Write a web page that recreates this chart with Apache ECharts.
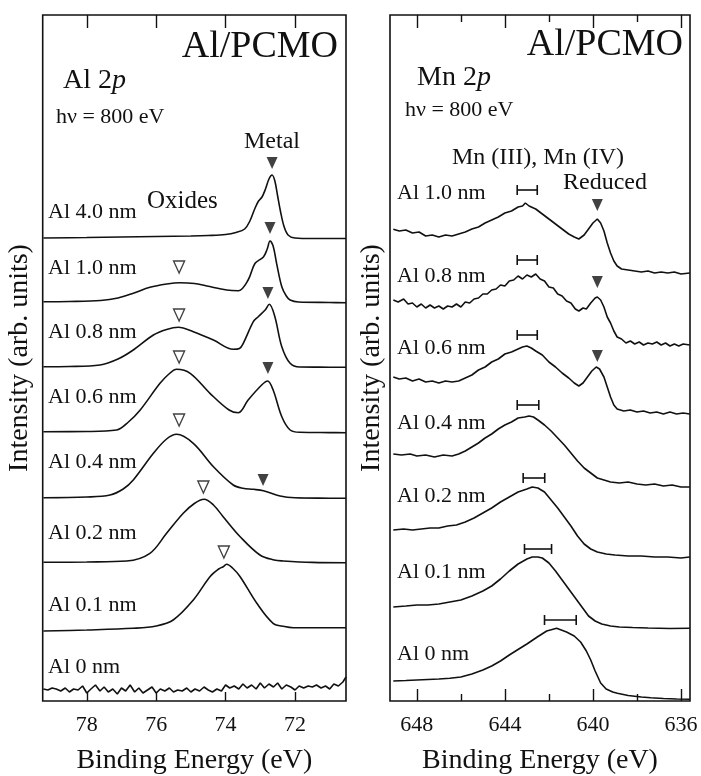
<!DOCTYPE html>
<html><head><meta charset="utf-8">
<script src="https://cdn.jsdelivr.net/npm/echarts@6/dist/echarts.min.js"></script>
<style>html,body{margin:0;padding:0;background:#fff}#c{width:701px;height:776px}</style>
</head><body><div id="c"></div>
<script>
// ---------- Labels ----------
const alLabels = ['Al 4.0 nm','Al 1.0 nm','Al 0.8 nm','Al 0.6 nm','Al 0.4 nm','Al 0.2 nm','Al 0.1 nm','Al 0 nm'];
const mnLabels = ['Al 1.0 nm','Al 0.8 nm','Al 0.6 nm','Al 0.4 nm','Al 0.2 nm','Al 0.1 nm','Al 0 nm'];
const alTickLabels = [78,76,74,72];
const mnTickLabels = [648,644,640,636];
const mnMinorTicks = [646,642,638];

// ---------- Al 2p spectra: [binding energy (eV), intensity (arb., offset)] ----------
const al_40 = [[79.25,463],[78,463.5],[77,464],[76,464.5],[75,465],[74.5,465.5],[74,466.5],[73.7,468.5],[73.45,472],[73.3,480],[73.15,493],[73.05,500],[72.95,504],[72.85,512],[72.75,522],[72.66,526],[72.58,520],[72.5,505],[72.42,490],[72.32,475],[72.2,466],[72.0,463],[71.5,462.5],[71.0,462.5],[70.53,462.5]];
const al_10 = [[79.25,399.3],[78.5,399.5],[77.6,400.5],[77.1,403],[76.66,407.7],[76.18,413.7],[75.7,417],[75.31,418.3],[74.9,417.5],[74.54,415],[73.97,411],[73.63,410.3],[73.35,421],[73.15,437.7],[72.91,444],[72.8,452],[72.72,460],[72.63,455],[72.53,437.7],[72.38,414.3],[72.25,405],[72.14,401],[71.9,399],[71.0,398.5],[70.53,398.3]];
const al_08 = [[79.25,334.3],[78.5,334.5],[77.62,336],[77.1,342],[76.66,351],[76.08,366],[75.7,371.5],[75.36,373.7],[74.93,369.3],[74.35,361],[73.78,351.7],[73.6,352.5],[73.49,357.7],[73.2,379.3],[73.06,384.3],[72.86,391],[72.74,396.7],[72.58,384.3],[72.38,354.3],[72.14,337.7],[71.86,334],[71.0,333.8],[70.53,333.7]];
const al_06 = [[79.25,269.3],[78.0,269.5],[77.14,271],[76.8,279],[76.46,291],[75.89,317.7],[75.6,328],[75.41,331.7],[75.02,327.7],[74.45,307.7],[73.9,291],[73.63,288.3],[73.35,301],[72.96,316],[72.79,320],[72.63,311],[72.38,284.3],[72.14,271],[71.86,268.7],[71.0,268.4],[70.53,268.3]];
const al_04 = [[79.25,203.3],[78.0,204],[77.33,206],[76.95,212],[76.66,221],[76.08,247.7],[75.7,262],[75.41,266.7],[74.93,257.7],[74.35,234.3],[73.78,216],[73.5,212.7],[73.2,211.7],[72.91,210.3],[72.43,205],[72.0,203.2],[71.0,202.8],[70.53,202.7]];
const al_02 = [[79.25,138.7],[78.0,139],[76.85,140],[76.18,147.7],[75.7,167.7],[75.22,187.7],[74.9,197.5],[74.62,201.7],[74.35,196],[74.07,184.3],[73.58,164.3],[73.01,146],[72.6,141],[72.34,140],[71.5,138.6],[70.53,138.3]];
const al_01 = [[79.25,70],[78.0,71],[76.66,72.7],[76.0,75],[75.51,81],[74.93,101],[74.45,124.3],[74.2,132],[74.07,134.3],[73.97,136.7],[73.8,133],[73.58,124.3],[73.1,97.7],[72.63,77.7],[72.3,74.5],[72.05,73.3],[71.0,73.2],[70.53,73.3]];
const al_00 = [[79.25,12],[79.12,11],[79.0,13],[78.88,12],[78.75,10],[78.62,13],[78.5,9],[78.38,12],[78.25,11],[78.12,15],[78.0,8],[77.88,12],[77.75,16],[77.62,10],[77.5,14],[77.38,9],[77.25,12],[77.12,7],[77.0,13],[76.88,10],[76.75,16],[76.62,9],[76.5,13],[76.38,8],[76.25,11],[76.12,14],[76.0,8],[75.88,12],[75.75,10],[75.62,13],[75.5,9],[75.38,11],[75.25,10],[75.12,13],[75.0,9],[74.88,12],[74.75,10],[74.62,14],[74.5,11],[74.38,9],[74.25,12],[74.12,10],[74.0,16],[73.88,13],[73.75,15],[73.62,12],[73.5,17],[73.38,13],[73.25,16],[73.12,12],[73.0,18],[72.88,13],[72.75,17],[72.62,14],[72.5,18],[72.38,12],[72.25,16],[72.12,14],[72.0,11],[71.88,15],[71.75,13],[71.62,15],[71.5,14],[71.38,16],[71.25,13],[71.12,15],[71.0,12],[70.88,17],[70.75,15],[70.62,19],[70.53,24]];

// ---------- Mn 2p spectra ----------
const mn_10 = [[649.07,471.7],[648.8,470],[648.5,471],[648.2,468],[647.9,469],[647.6,465],[647.3,466],[647.0,464],[646.7,466],[646.4,465],[646.1,467],[645.8,469],[645.5,472],[645.2,474],[644.9,478],[644.6,481],[644.3,484],[644.0,488],[643.7,490],[643.4,494],[643.2,495],[643.07,498],[642.9,495],[642.6,492],[642.3,487],[642.0,482],[641.7,477],[641.4,472],[641.1,467],[640.85,464],[640.64,462],[640.4,466],[640.2,472],[640.0,478],[639.8,482],[639.65,478],[639.5,470],[639.35,458],[639.2,448],[639.05,440],[638.9,435],[638.7,432],[638.4,431],[638.1,430],[637.8,429],[637.5,430],[637.2,428],[636.9,429],[636.6,428],[636.3,429],[636.0,427],[635.6,428]];
const mn_08 = [[649.07,401],[648.85,399],[648.6,402],[648.4,397],[648.2,398],[648.0,394],[647.8,397],[647.6,393],[647.4,396],[647.2,393],[647.0,395],[646.8,392],[646.6,395],[646.4,394],[646.2,397],[646.0,394],[645.8,399],[645.6,398],[645.4,402],[645.2,403],[645.0,407],[644.8,407],[644.6,411],[644.4,412],[644.2,416],[644.0,415],[643.8,420],[643.6,421],[643.4,425],[643.2,422],[643.0,426],[642.8,424],[642.6,427],[642.4,422],[642.2,420],[642.0,414],[641.8,413],[641.6,407],[641.4,405],[641.2,400],[641.0,398],[640.8,392],[640.64,390],[640.45,393],[640.3,392],[640.1,398],[639.9,403],[639.8,404],[639.65,401],[639.5,394],[639.35,384],[639.2,378],[639.05,370],[638.9,364],[638.7,362],[638.5,358],[638.3,360],[638.1,357],[637.9,359],[637.7,356],[637.5,358],[637.3,357],[637.1,359],[636.9,356],[636.7,358],[636.5,355],[636.3,357],[636.1,355],[635.9,357],[635.6,356]];
const mn_06 = [[649.07,324],[648.8,322],[648.5,323],[648.2,320],[647.9,322],[647.6,319],[647.3,320],[647.0,318],[646.7,320],[646.4,319],[646.1,320],[645.8,323],[645.5,326],[645.2,331],[644.9,334],[644.6,339],[644.3,342],[644.0,347],[643.7,349],[643.4,352],[643.2,354],[643.0,355],[642.8,353],[642.6,350],[642.3,346],[642.0,339],[641.7,334],[641.4,328],[641.1,323],[640.85,318],[640.64,315],[640.45,318],[640.25,324],[640.05,330],[639.85,334],[639.7,332],[639.5,324],[639.35,314],[639.2,304],[639.05,296],[638.9,292],[638.6,290],[638.3,291],[638.0,289],[637.7,290],[637.4,288],[637.1,289],[636.8,287],[636.5,289],[636.2,287],[635.9,288],[635.6,287]];
const mn_04 = [[649.07,247],[648.7,246],[648.3,247],[648.0,245],[647.6,246],[647.2,244],[646.8,246],[646.4,245],[646.1,247],[645.8,250],[645.5,254],[645.2,258],[644.9,263],[644.6,267],[644.3,272],[644.0,276],[643.7,279],[643.4,283],[643.1,284],[642.9,285],[642.7,284],[642.5,281],[642.2,276],[641.9,270],[641.6,263],[641.3,256],[641.0,248],[640.7,240],[640.4,233],[640.1,228],[639.8,223],[639.5,221],[639.2,219],[638.8,218],[638.4,219],[638.0,217],[637.6,216],[637.2,217],[636.8,215],[636.4,216],[636.0,214],[635.6,214]];
const mn_02 = [[649.07,171],[648.6,172],[648.2,171],[647.8,172],[647.4,173],[647.0,173],[646.6,175],[646.2,176],[645.8,179],[645.4,183],[645.0,188],[644.6,193],[644.2,199],[643.8,204],[643.4,209],[643.0,212],[642.76,214],[642.5,213],[642.2,209],[641.9,201],[641.6,193],[641.3,184],[641.0,175],[640.7,165],[640.4,157],[640.1,152],[639.8,149],[639.4,147],[639.0,146],[638.4,145],[637.8,145],[637.2,144],[636.6,144],[636.0,143],[635.6,144]];
const mn_01 = [[649.07,94],[648.5,95],[648.0,96],[647.5,96],[647.0,97],[646.5,99],[646.0,101],[645.5,105],[645.0,110],[644.6,115],[644.2,122],[643.8,130],[643.4,137],[643.0,142],[642.76,144],[642.5,144],[642.3,143],[642.0,138],[641.7,130],[641.4,121],[641.1,112],[640.8,103],[640.5,94],[640.2,85],[639.9,80],[639.6,77],[639.2,75],[638.8,74],[638.2,73.5],[637.5,73],[636.5,72.5],[635.6,72.7]];
const mn_00 = [[649.07,20],[648.5,20.5],[648.0,21],[647.5,21.5],[647.0,22],[646.5,22.7],[646.0,24],[645.5,27],[645.0,31],[644.6,35],[644.2,40],[643.8,46],[643.44,51],[643.0,57],[642.53,64],[642.1,70],[641.65,72.7],[641.2,69],[640.85,65],[640.56,59],[640.3,50],[640.1,41],[639.9,30],[639.65,18],[639.4,12],[639.1,9],[638.89,7.7],[638.4,5.5],[637.8,4],[637.37,3.3],[636.8,2.5],[636.2,2],[635.6,1.7]];

// ---------- Markers ----------
const alMetalMarks = [[72.66,538],[72.72,473],[72.78,408],[72.78,333],[72.92,221]];
const alOxideMarks = [[75.34,434],[75.34,386],[75.34,344],[75.34,281],[74.64,214],[74.05,149]];
const mnReducedMarks = [[639.8,496],[639.8,419],[639.8,345]];
const mnRanges = [[643.44,642.53,511],[643.44,642.53,441],[643.44,642.53,366],[643.44,642.46,296],[643.17,642.19,223],[643.11,641.88,152],[642.2,640.76,81]];

const alSpectra = [al_40, al_10, al_08, al_06, al_04, al_02, al_01, al_00];
const mnSpectra = [mn_10, mn_08, mn_06, mn_04, mn_02, mn_01, mn_00];

// ---------- Build chart ----------
const FONT = '"Liberation Serif", "Times New Roman", serif';
const INK = '#111';
const chart = echarts.init(document.getElementById('c'), null, {renderer: 'canvas'});

function xAxisDef(grid, pos, min, max, tickVals, tickLen, showLabels, name) {
  return {
    type: 'value', gridIndex: grid, position: pos, inverse: true,
    min: min, max: max,
    axisLine: {show: false},
    axisTick: {show: true, inside: true, length: tickLen, customValues: tickVals, lineStyle: {color: INK, width: 1.4}},
    splitLine: {show: false},
    axisLabel: {
      show: showLabels, customValues: tickVals, margin: 13, color: INK, fontFamily: FONT, fontSize: 22,
      formatter: v => String(Math.round(v))
    },
    name: name || '', nameLocation: 'middle', nameGap: 46,
    nameTextStyle: {color: INK, fontFamily: FONT, fontSize: 28}
  };
}
function yAxisDef(grid, gap) {
  return {
    type: 'value', gridIndex: grid, min: 0, max: 686,
    axisLine: {show: false}, axisTick: {show: false}, axisLabel: {show: false}, splitLine: {show: false},
    name: 'Intensity (arb. units)', nameLocation: 'middle', nameGap: gap, nameRotate: 90,
    nameTextStyle: {color: INK, fontFamily: FONT, fontSize: 28}
  };
}

const series = [];
alSpectra.forEach((d, i) => series.push({
  type: 'line', name: 'Al 2p ' + alLabels[i], xAxisIndex: 0, yAxisIndex: 0, data: d,
  showSymbol: false, smooth: i === 7 ? false : 0.35, lineStyle: {color: INK, width: 1.6}, z: 3, silent: true
}));
mnSpectra.forEach((d, i) => series.push({
  type: 'line', name: 'Mn 2p ' + mnLabels[i], xAxisIndex: 2, yAxisIndex: 1, data: d,
  showSymbol: false, smooth: false, lineStyle: {color: INK, width: 1.6}, z: 3, silent: true
}));
series.push({type: 'scatter', xAxisIndex: 0, yAxisIndex: 0, data: alMetalMarks, symbol: 'triangle', symbolRotate: 180, symbolSize: [11, 12], itemStyle: {color: INK}, z: 5});
series.push({type: 'scatter', xAxisIndex: 0, yAxisIndex: 0, data: alOxideMarks, symbol: 'triangle', symbolRotate: 180, symbolSize: [11, 12], itemStyle: {color: '#fff', borderColor: INK, borderWidth: 1.4}, z: 5});
series.push({type: 'scatter', xAxisIndex: 2, yAxisIndex: 1, data: mnReducedMarks, symbol: 'triangle', symbolRotate: 180, symbolSize: [11, 12], itemStyle: {color: INK}, z: 5});
series.push({
  type: 'custom', xAxisIndex: 2, yAxisIndex: 1, data: mnRanges, encode: {x: [0, 1], y: 2}, z: 5,
  renderItem: (params, api) => {
    const a = api.coord([api.value(0), api.value(2)]);
    const b = api.coord([api.value(1), api.value(2)]);
    const h = 5, st = {stroke: INK, lineWidth: 1.6};
    return {type: 'group', children: [
      {type: 'line', shape: {x1: a[0], y1: a[1], x2: b[0], y2: b[1]}, style: st},
      {type: 'line', shape: {x1: a[0], y1: a[1] - h, x2: a[0], y2: a[1] + h}, style: st},
      {type: 'line', shape: {x1: b[0], y1: b[1] - h, x2: b[0], y2: b[1] + h}, style: st}
    ]};
  }
});

function txt(x, y, text, size, align) {
  return {type: 'text', x: x, y: y, silent: true, z: 10,
    style: {text: text, fill: INK, font: size + 'px ' + FONT, align: align || 'left', verticalAlign: 'middle'}};
}
function richTxt(x, y, base, ital, size) {
  return {type: 'text', x: x, y: y, silent: true, z: 10,
    style: {text: '{a|' + base + '}{b|' + ital + '}', align: 'left', verticalAlign: 'middle',
      rich: {a: {fontFamily: FONT, fontSize: size, fill: INK, color: INK}, b: {fontFamily: FONT, fontSize: size, fontStyle: 'italic', fill: INK, color: INK}}}};
}

const alLabelY = [212, 268, 332, 397, 462, 533, 605, 667];
const mnLabelY = [193, 276, 348, 423, 496, 572, 654];
const graphics = [
  txt(338, 47, 'Al/PCMO', 38, 'right'),
  richTxt(63, 81, 'Al 2', 'p', 28),
  txt(56, 117, 'hν = 800 eV', 22),
  txt(272, 142, 'Metal', 24, 'center'),
  txt(147, 201, 'Oxides', 25),
  txt(683, 45, 'Al/PCMO', 38, 'right'),
  richTxt(417, 78, 'Mn 2', 'p', 28),
  txt(405, 110, 'hν = 800 eV', 22),
  txt(452, 158, 'Mn (III), Mn (IV)', 24),
  txt(563, 183, 'Reduced', 24)
];
alLabels.forEach((l, i) => graphics.push(txt(48, alLabelY[i], l, 22)));
mnLabels.forEach((l, i) => graphics.push(txt(397, mnLabelY[i], l, 22)));

chart.setOption({
  animation: false,
  backgroundColor: '#fff',
  grid: [
    {left: 42.7, right: 355, top: 15, bottom: 75, outerBoundsMode: 'none', containLabel: false, show: true, borderColor: INK, borderWidth: 1.6, backgroundColor: 'transparent'},
    {left: 390, right: 11, top: 15, bottom: 75, outerBoundsMode: 'none', containLabel: false, show: true, borderColor: INK, borderWidth: 1.6, backgroundColor: 'transparent'}
  ],
  xAxis: [
    xAxisDef(0, 'bottom', 70.53, 79.27, alTickLabels, 9, true, 'Binding Energy (eV)'),
    xAxisDef(0, 'top', 70.53, 79.27, alTickLabels, 13, false),
    xAxisDef(1, 'bottom', 635.59, 649.22, mnTickLabels, 12, true, 'Binding Energy (eV)'),
    xAxisDef(1, 'bottom', 635.59, 649.22, mnMinorTicks, 7, false),
    xAxisDef(1, 'top', 635.59, 649.22, mnTickLabels, 13, false),
    xAxisDef(1, 'top', 635.59, 649.22, mnMinorTicks, 7, false)
  ],
  yAxis: [yAxisDef(0, 9), yAxisDef(1, 4)],
  series: series,
  graphic: graphics
});
</script></body></html>
